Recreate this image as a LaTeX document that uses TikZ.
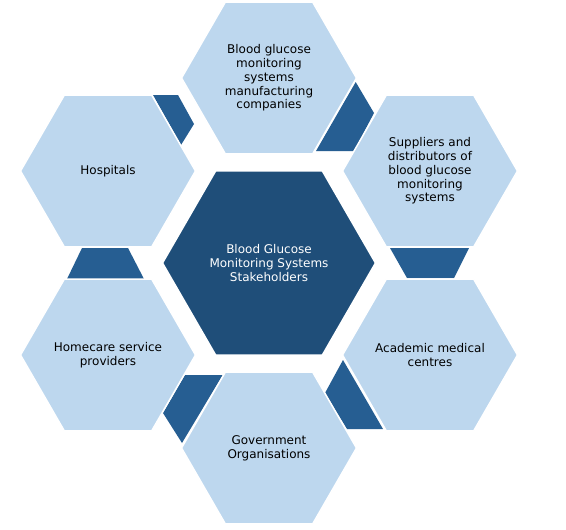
\documentclass[tikz,border=0pt]{standalone}
\usepackage{fontspec}
\setmainfont{DejaVu Sans}
\usetikzlibrary{shapes.geometric}
\definecolor{hexlight}{HTML}{BDD7EE}
\definecolor{hexdark}{HTML}{1F4E79}
\definecolor{piece}{HTML}{265E92}
\begin{document}
\begin{tikzpicture}[x=1pt,y=-1pt,
  hexbase/.style={regular polygon, regular polygon sides=6, inner sep=0pt, outer sep=0pt,
    draw=white, line width=1.5pt},
  outerhex/.style={hexbase, minimum size=175pt, fill=hexlight},
  centerhex/.style={hexbase, minimum size=213pt, fill=hexdark},
  hextext/.style={align=center, inner sep=0pt, font=\fontsize{12}{13.7}\selectfont, text=black},
  centertext/.style={hextext, text=white},
  piecefill/.style={fill=piece, draw=none}]
\useasboundingbox[fill=white] (0,0) rectangle (566,530);
% dark pieces in the gaps
\fill[piecefill] (390,248) -- (469,248) -- (454,278) -- (407,278) -- cycle;
\fill[piecefill] (82,248) -- (128,248) -- (144,279) -- (67,279) -- cycle;
\fill[piecefill] (153,95) -- (178,95) -- (194,124) -- (181,145) -- cycle;
\fill[piecefill] (355.7,82) -- (374,113) -- (354,151) -- (316,151) -- cycle;
\fill[piecefill] (343,360) -- (325,393) -- (347,429) -- (383,429) -- cycle;
\fill[piecefill] (185,375) -- (222.7,375) -- (182,443) -- (163,413) -- cycle;
% hexagons
\node[centerhex] (center) at (269,263) {};
\node[outerhex] (manu) at (269,78) {};
\node[outerhex] (supp) at (430,171) {};
\node[outerhex] (acad) at (430,355) {};
\node[outerhex] (gov) at (269,448) {};
\node[outerhex] (home) at (108,355) {};
\node[outerhex] (hosp) at (108,171) {};
% texts
\node[centertext] (centert) at (center) {Blood Glucose\\Monitoring Systems\\Stakeholders};
\node[hextext] (manut) at (manu) {Blood glucose\\monitoring\\systems\\manufacturing\\companies};
\node[hextext] (suppt) at (supp) {Suppliers and\\distributors of\\blood glucose\\monitoring\\systems};
\node[hextext] (acadt) at (acad) {Academic medical\\centres};
\node[hextext] (govt) at (gov) {Government\\Organisations};
\node[hextext] (homet) at (home) {Homecare service\\providers};
\node[hextext] (hospt) at (hosp) {Hospitals};
\end{tikzpicture}
\end{document}
